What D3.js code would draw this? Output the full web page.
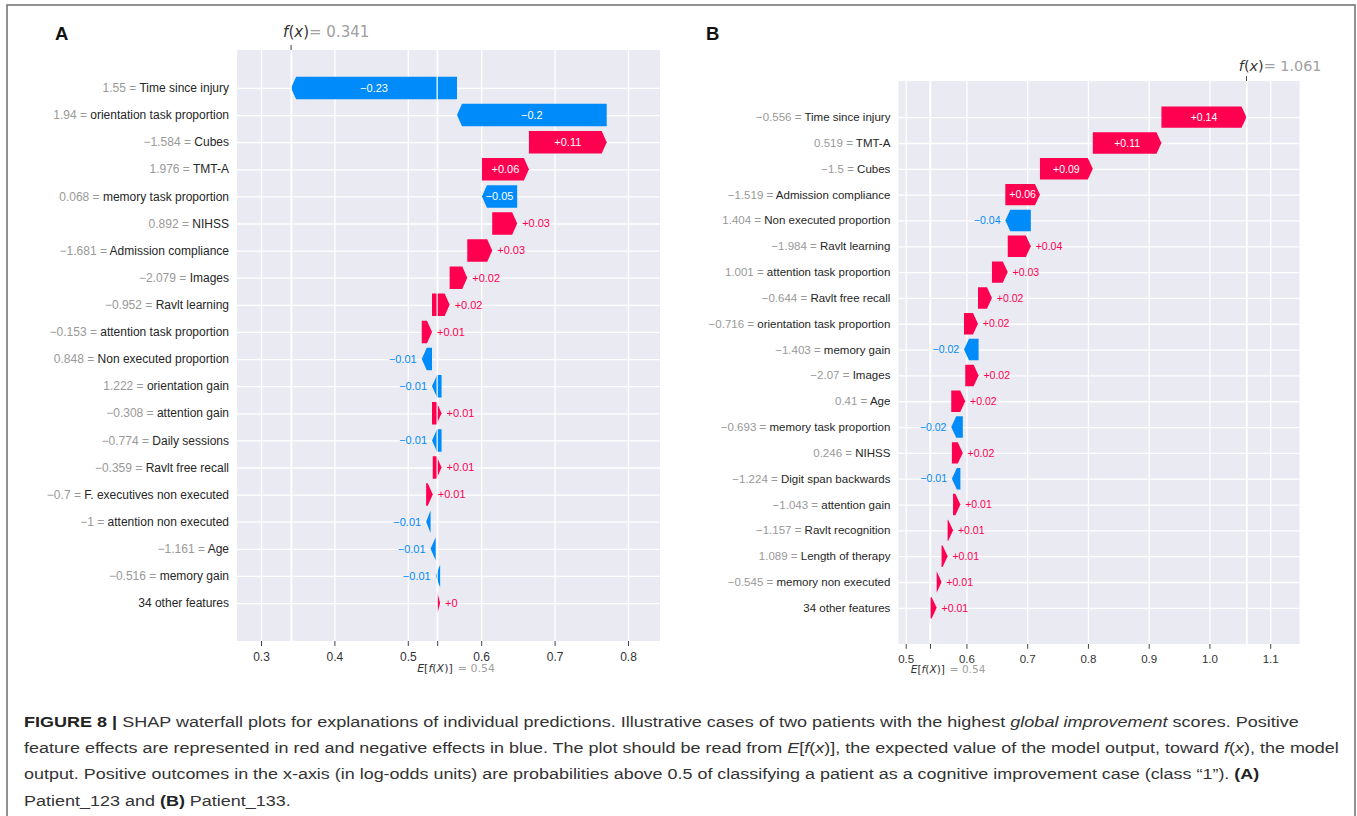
<!DOCTYPE html>
<html><head><meta charset="utf-8">
<script src="https://cdn.jsdelivr.net/npm/d3@7"></script>
<style>
body{margin:0;background:#fff;}
svg{display:block;}
text{white-space:pre;}
</style>
</head><body>
<svg id="c" width="1357" height="816"></svg>
<script>
// ---------- DATA ----------
const featuresA = ["Time since injury","orientation task proportion","Cubes","TMT-A","memory task proportion","NIHSS","Admission compliance","Images","Ravlt learning","attention task proportion","Non executed proportion","orientation gain","attention gain","Daily sessions","Ravlt free recall","F. executives non executed","attention non executed","Age","memory gain","34 other features"];
const featureValuesA = ["1.55","1.94","\u22121.584","1.976","0.068","0.892","\u22121.681","\u22122.079","\u22120.952","\u22120.153","0.848","1.222","\u22120.308","\u22120.774","\u22120.359","\u22120.7","\u22121","\u22121.161","\u22120.516",""];
const shapA = [-0.226,-0.204,0.106,0.064,-0.048,0.034,0.034,0.024,0.024,0.014,-0.014,-0.013,0.013,-0.013,0.012,0.009,-0.006,-0.007,-0.006,0.004];
const baseA = 0.54, fxA = 0.341;
const ticksA = [0.3,0.4,0.5,0.6,0.7,0.8];
const tickLabelsA = ["0.3","0.4","0.5","0.6","0.7","0.8"];

const featuresB = ["Time since injury","TMT-A","Cubes","Admission compliance","Non executed proportion","Ravlt learning","attention task proportion","Ravlt free recall","orientation task proportion","memory gain","Images","Age","memory task proportion","NIHSS","Digit span backwards","attention gain","Ravlt recognition","Length of therapy","memory non executed","34 other features"];
const featureValuesB = ["\u22120.556","0.519","\u22121.5","\u22121.519","1.404","\u22121.984","1.001","\u22120.644","\u22120.716","\u22121.403","\u22122.07","0.41","\u22120.693","0.246","\u22121.224","\u22121.043","\u22121.157","1.089","\u22120.545",""];
const shapB = [0.140,0.113,0.087,0.057,-0.042,0.038,0.026,0.023,0.023,-0.024,0.022,0.023,-0.019,0.018,-0.014,0.012,0.009,0.010,0.008,0.011];
const baseB = 0.54, fxB = 1.061;
const ticksB = [0.5,0.6,0.7,0.8,0.9,1.0,1.1];
const tickLabelsB = ["0.5","0.6","0.7","0.8","0.9","1.0","1.1"];

const captionLines = [
  [["FIGURE 8 | ","b"],["SHAP waterfall plots for explanations of individual predictions. Illustrative cases of two patients with the highest ",""],["global improvement","i"],[" scores. Positive",""]],
  [["feature effects are represented in red and negative effects in blue. The plot should be read from ",""],["E","i"],["[",""],["f","i"],["(",""],["x","i"],[")], the expected value of the model output, toward ",""],["f","i"],["(",""],["x","i"],["), the model",""]],
  [["output. Positive outcomes in the x-axis (in log-odds units) are probabilities above 0.5 of classifying a patient as a cognitive improvement case (class \u201c1\u201d). ",""],["(A)","b"]],
  [["Patient_123 and ",""],["(B)","b"],[" Patient_133.",""]]
];

// ---------- STYLE ----------
const RED = "#ff0051", BLUE = "#008bfb";
const SANS = "'Liberation Sans', Arial, Helvetica, sans-serif";
const MATH = "'DejaVu Sans', sans-serif";

const svg = d3.select("#c");
svg.append("rect").attr("x",7).attr("y",5).attr("width",1348).attr("height",860)
  .attr("fill","none").attr("stroke","#6e6e6e").attr("stroke-width",1.5);

function fmtSigned(v){ return d3.format("+.2f")(v).replace(/\.?0+$/,""); }
function fmtVal(v){ return d3.format(".3f")(v).replace(/\.?0+$/,""); }

function panel(c){
  const g = svg.append("g");
  const n = c.features.length;
  const x = d3.scaleLinear().domain(c.dom).range([c.x0, c.x1]);
  const y = d3.scaleLinear().domain([-1.4, n - 1 + 1.4]).range([c.y0, c.y1]);
  const step = y(1) - y(0);
  const bh = step * 0.83;
  const k = c.k;

  g.append("rect").attr("x",c.x0).attr("y",c.y0).attr("width",c.x1-c.x0).attr("height",c.y1-c.y0).attr("fill","#eaeaf2");

  // vertical grid (ticks + base + fx)
  const vgrid = g.append("g").attr("transform",`translate(0,${c.y1})`)
    .call(d3.axisBottom(x).tickValues(c.ticks.concat([c.base, c.fx])).tickSize(-(c.y1-c.y0)).tickFormat(""));
  vgrid.select(".domain").remove();
  vgrid.selectAll("line").attr("stroke","#fff").attr("stroke-width",1.3);

  // horizontal grid at rows
  const hgrid = g.append("g").attr("transform",`translate(${c.x0},0)`)
    .call(d3.axisLeft(y).tickValues(d3.range(n)).tickSize(-(c.x1-c.x0)).tickFormat(""));
  hgrid.select(".domain").remove();
  hgrid.selectAll("line").attr("stroke","#fff").attr("stroke-width",1.3);

  // cumulative positions (bottom row starts at base value)
  const starts = new Array(n), ends = new Array(n);
  let cum = c.base;
  for (let i = n - 1; i >= 0; i--) { starts[i] = cum; cum += c.shap[i]; ends[i] = cum; }

  const bars = g.append("g");
  const labels = g.append("g");
  for (let i = 0; i < n; i++) {
    const v = c.shap[i];
    const xs = x(starts[i]), xe = x(ends[i]);
    const yc = y(i), t = yc - bh/2, b = yc + bh/2;
    const w = Math.abs(xe - xs);
    const hl = Math.min(w, 5);
    const dir = v >= 0 ? 1 : -1;
    const pts = [[xs,t],[xe - dir*hl,t],[xe,yc],[xe - dir*hl,b],[xs,b]];
    bars.append("path").attr("d", "M" + pts.map(p=>p.join(",")).join("L") + "Z")
      .attr("fill", v >= 0 ? RED : BLUE);

    const txt = labels.append("text").text(fmtSigned(v))
      .attr("font-family",SANS).attr("font-size",11*k).attr("y",yc).attr("dy","0.35em");
    const tw = txt.node().getComputedTextLength();
    if (tw < w) {
      txt.attr("x",(xs+xe)/2).attr("text-anchor","middle").attr("fill","#fff");
    } else if (v >= 0) {
      txt.attr("x",xe + 5*k).attr("text-anchor","start").attr("fill",RED);
    } else {
      txt.attr("x",xe - 5*k).attr("text-anchor","end").attr("fill",BLUE);
    }

    // feature labels
    const fl = g.append("text").attr("x",c.x0 - 8).attr("y",yc).attr("dy","0.35em")
      .attr("text-anchor","end").attr("font-family",SANS).attr("font-size",12*k);
    if (c.featVals[i] !== "") fl.append("tspan").attr("fill","#999").text(c.featVals[i] + " = ");
    fl.append("tspan").attr("fill","#262626").text(c.features[i]);
  }

  // white lines at base and fx on top of bars
  g.selectAll(".ov").data([c.base, c.fx]).join("line")
    .attr("x1",d=>x(d)).attr("x2",d=>x(d)).attr("y1",c.y0).attr("y2",c.y1)
    .attr("stroke","#fff").attr("stroke-width",1.2);

  g.raise();
  labels.raise();

  // bottom axis with tick labels
  const ax = g.append("g").attr("transform",`translate(0,${c.y1})`)
    .call(d3.axisBottom(x).tickValues(c.ticks.concat([c.base])).tickSize(5*k)
      .tickFormat(d => { const j = c.ticks.indexOf(d); return j >= 0 ? c.tickLabels[j] : ""; }));
  ax.select(".domain").remove();
  ax.selectAll("line").attr("stroke","#444").attr("stroke-width",1);
  ax.selectAll("text").attr("font-family",SANS).attr("font-size",12*k).attr("fill","#333")
    .attr("dy",null).attr("y", c.tickBase - c.y1);

  // E[f(X)] label
  const xb = x(c.base);
  const et = g.append("text").attr("x", xb - 20*k).attr("y", c.eBase)
    .attr("font-family",MATH).attr("font-size",11*k).attr("fill","#333");
  et.append("tspan").attr("font-style","italic").text("E");
  et.append("tspan").text("[");
  et.append("tspan").attr("font-style","italic").text("f");
  et.append("tspan").text("(");
  et.append("tspan").attr("font-style","italic").text("X");
  et.append("tspan").text(")]");
  et.append("tspan").attr("fill","#a0a0a0").attr("dx",5*k).text("= " + fmtVal(c.base));

  // top f(x) tick and label
  const xf = x(c.fx);
  g.append("line").attr("x1",xf).attr("x2",xf).attr("y1",c.y0 - 5*k).attr("y2",c.y0)
    .attr("stroke","#444").attr("stroke-width",1);
  const ft = g.append("text").attr("x", xf - 8*k).attr("y", c.fxBase)
    .attr("font-family",MATH).attr("font-size",15*k).attr("fill","#333");
  ft.append("tspan").attr("font-style","italic").text("f");
  ft.append("tspan").text("(");
  ft.append("tspan").attr("font-style","italic").text("x");
  ft.append("tspan").text(")");
  ft.append("tspan").attr("fill","#a0a0a0").text("= " + fmtVal(c.fx));

  // panel letter
  svg.append("text").attr("x",c.letterX).attr("y",40).attr("font-family",SANS)
    .attr("font-weight","bold").attr("font-size",18.5).attr("fill","#111").text(c.letter);
}

panel({features:featuresA, featVals:featureValuesA, shap:shapA, base:baseA, fx:fxA,
  ticks:ticksA, tickLabels:tickLabelsA, x0:237, x1:660, y0:50, y1:641, dom:[0.2673,0.8436],
  k:1, letter:"A", letterX:55, tickBase:660.5, eBase:672, fxBase:37.3});
panel({features:featuresB, featVals:featureValuesB, shap:shapB, base:baseB, fx:fxB,
  ticks:ticksB, tickLabels:tickLabelsB, x0:898.4, x1:1299.6, y0:81, y1:644, dom:[0.488,1.1484],
  k:0.96, letter:"B", letterX:706, tickBase:662.5, eBase:673, fxBase:70.5});

// ---------- CAPTION ----------
const capX = 24;
const capBase = [726.5, 753, 779, 805.5];
const capEnd = [1299, 1340, 1261, null];
const scales = [];
captionLines.forEach((line, li) => {
  const g = svg.append("g").attr("transform",`translate(${capX},${capBase[li]})`);
  const t = g.append("text").attr("x",0).attr("y",0).attr("font-family",SANS)
    .attr("font-size",15).attr("fill","#333");
  line.forEach(([s, st]) => {
    const sp = t.append("tspan").text(s);
    if (st === "b") sp.attr("font-weight","bold").attr("fill","#222");
    if (st === "i") sp.attr("font-style","italic");
  });
  const w = t.node().getComputedTextLength();
  let sc;
  if (capEnd[li] !== null) { sc = (capEnd[li] - capX) / w; scales.push(sc); }
  else { sc = d3.mean(scales); }
  t.attr("transform",`scale(${sc},1)`);
});
</script>
</body></html>
